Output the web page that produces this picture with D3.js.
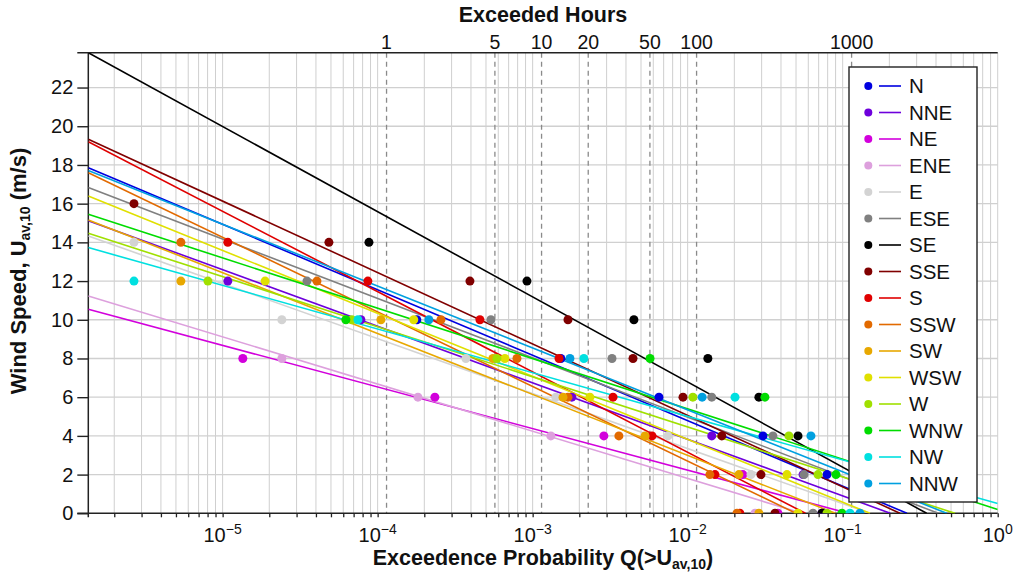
<!DOCTYPE html>
<html><head><meta charset="utf-8">
<script src="https://cdn.jsdelivr.net/npm/d3@7"></script>
<style>body{margin:0;background:#fff} svg{font-family:"Liberation Sans",Arial,sans-serif}</style>
</head><body><svg id="c" width="1017" height="576"></svg>
<script>
// ---------------- data ----------------
const directions = ["N","NNE","NE","ENE","E","ESE","SE","SSE","S","SSW","SW","WSW","W","WNW","NW","NNW"];
const colors = ["#0000e0","#6e00dc","#d200dc","#dda0dd","#d3d3d3","#808080","#000000","#800000",
                "#e00000","#e26a00","#e8a800","#e0e000","#a0e000","#00dc00","#00e0e0","#00a0e0"];
// fitted line: speed at the left edge of the plot, and probability where the line reaches 0 m/s
const lineLeftSpeed = [17.86,15.12,10.54,11.23,14.33,16.83,23.8,19.33,19.2,17.6,15.16,16.4,14.47,15.45,13.73,17.71];
const lineZeroProb  = [0.260,0.203,0.1087,0.0548,0.150,0.414,0.348,0.234,0.0575,0.050,0.0897,0.150,0.531,1.19,1.67,0.469];
// observed points [wind speed, exceedence probability]
const ptsN   = [[10,1.79e-4],[8,1.52e-3],[6,6.53e-3],[4,3.06e-2],[2,7.92e-2],[0,7.57e-2]];
const ptsNNE = [[12,1.08e-5],[10,7.80e-5],[6,1.79e-3],[4,1.43e-2],[2,5.55e-2],[0,7.35e-2]];
const ptsNE  = [[8,1.35e-5],[6,2.34e-4],[4,2.88e-3],[2,2.27e-2],[0,3.82e-2]];
const ptsENE = [[8,2.41e-5],[6,1.82e-4],[4,1.31e-3],[0,2.72e-2]];
const ptsE   = [[14,2.68e-6],[10,2.41e-5],[8,3.71e-4],[6,1.41e-3],[4,7.46e-3],[2,2.56e-2]];
const ptsESE = [[12,3.50e-5],[10,5.38e-4],[8,3.25e-3],[6,1.43e-2],[4,3.55e-2],[2,5.63e-2],[0,6.43e-2]];
const ptsSE  = [[14,8.79e-5],[12,9.19e-4],[10,4.50e-3],[8,1.35e-2],[6,2.88e-2],[4,5.15e-2],[0,7.35e-2]];
const ptsSSE = [[16,2.68e-6],[14,4.85e-5],[12,3.94e-4],[10,1.69e-3],[8,4.44e-3],[6,9.33e-3],[4,1.66e-2],[2,2.97e-2],[0,3.66e-2]];
const ptsS   = [[14,1.08e-5],[12,8.65e-5],[10,4.57e-4],[8,1.48e-3],[6,3.30e-3],[4,5.89e-3],[2,1.50e-2],[0,2.17e-2]];
const ptsSSW = [[14,5.38e-6],[12,4.06e-5],[10,2.56e-4],[8,7.92e-4],[6,1.69e-3],[4,3.60e-3],[2,1.39e-2],[0,2.08e-2]];
const ptsSW  = [[12,5.38e-6],[10,1.05e-4],[8,5.54e-4],[6,1.57e-3],[4,5.31e-3],[2,2.14e-2],[0,2.88e-2]];
const ptsWSW = [[12,1.88e-5],[10,1.71e-4],[8,6.62e-4],[6,2.34e-3],[2,4.37e-2],[0,5.15e-2]];
const ptsW   = [[12,8.04e-6],[10,6.82e-5],[8,5.88e-4],[6,1.08e-2],[4,4.50e-2],[2,6.93e-2],[0,7.92e-2]];
const ptsWNW = [[10,6.24e-5],[8,5.72e-3],[6,3.15e-2],[2,9.05e-2],[0,9.89e-2]];
const ptsNW  = [[12,2.68e-6],[10,7.46e-5],[8,2.14e-3],[6,2.02e-2],[0,0.1114]];
const ptsNNW = [[10,2.14e-4],[8,1.74e-3],[6,1.24e-2],[4,6.24e-2],[0,0.1292]];
const allPoints = [ptsN,ptsNNE,ptsNE,ptsENE,ptsE,ptsESE,ptsSE,ptsSSE,ptsS,ptsSSW,ptsSW,ptsWSW,ptsW,ptsWNW,ptsNW,ptsNNW];
const yTicks = [0,2,4,6,8,10,12,14,16,18,20,22];
const xDecades = [-5,-4,-3,-2,-1,0];
const hourTicks = [1,5,10,20,50,100,1000];
const hoursPerYear = 8760;
const pMin = 1.36e-6, yMax = 23.8;

// ---------------- layout ----------------
const L=88.3, R=997.7, T=52.7, B=513.3;
const x = d3.scaleLog().domain([pMin,1]).range([L,R]);
const y = d3.scaleLinear().domain([0,yMax]).range([B,T]);
const xh = d3.scaleLog().domain([pMin*hoursPerYear, hoursPerYear]).range([L,R]);
const svg = d3.select('#c');

svg.append('defs').append('clipPath').attr('id','clip')
  .append('rect').attr('x',L).attr('y',T).attr('width',R-L).attr('height',B-T);

// grid
const minor=[];
for(let e=-6;e<0;e++) for(let m=1;m<10;m++){const v=m*Math.pow(10,e); if(v>=pMin && v<=1.0001) minor.push(v);}
minor.push(1);
const grid = svg.append('g');
grid.selectAll('line.v').data(minor).join('line')
  .attr('x1',d=>x(d)).attr('x2',d=>x(d)).attr('y1',T).attr('y2',B)
  .attr('stroke','#cfcfcf').attr('stroke-width',1);
grid.selectAll('line.h').data(yTicks.filter(d=>d>0)).join('line')
  .attr('x1',L).attr('x2',R).attr('y1',d=>y(d)).attr('y2',d=>y(d))
  .attr('stroke','#d0d0d0').attr('stroke-width',1.3);
// dashed hour lines
grid.selectAll('line.hr').data(hourTicks).join('line')
  .attr('x1',d=>xh(d)).attr('x2',d=>xh(d)).attr('y1',T).attr('y2',B)
  .attr('stroke','#8a8a8a').attr('stroke-width',1.3).attr('stroke-dasharray','5,4');

// axes
const yAxis = svg.append('g').attr('transform',`translate(${L},0)`)
  .call(d3.axisLeft(y).tickValues(yTicks).tickSize(11).tickPadding(4).tickSizeOuter(0));
yAxis.select('.domain').remove();
yAxis.selectAll('line').attr('stroke','#222').attr('stroke-width',1.4);
yAxis.selectAll('text').attr('font-size',20).attr('fill','#111').attr('font-family','"Liberation Sans",Arial,sans-serif');
svg.append('line').attr('x1',L).attr('x2',L).attr('y1',T).attr('y2',B+4).attr('stroke','#222').attr('stroke-width',1.5);

const xAxis = svg.append('g').attr('transform',`translate(0,${B})`)
  .call(d3.axisBottom(x).tickValues(minor).tickSize(4).tickFormat('').tickSizeOuter(0));
xAxis.select('.domain').remove();
xAxis.selectAll('line').attr('stroke','#222').attr('stroke-width',1.3);
svg.append('line').attr('x1',L-11).attr('x2',R).attr('y1',B).attr('y2',B).attr('stroke','#222').attr('stroke-width',1.5);
const xl = svg.append('g').attr('font-size',20).attr('fill','#111');
xDecades.forEach(e=>{
  const t = xl.append('text').attr('x',x(Math.pow(10,e))).attr('y',B+29).attr('text-anchor','middle');
  t.append('tspan').text('10');
  t.append('tspan').attr('font-size',14).attr('dy',-8).text(e===0?'0':'\u2212'+(-e));
});

// top axis (exceeded hours)
svg.append('line').attr('x1',L-11).attr('x2',R).attr('y1',T).attr('y2',T).attr('stroke','#222').attr('stroke-width',1.5);
svg.append('g').selectAll('text').data(hourTicks).join('text')
  .attr('x',d=>xh(d)).attr('y',T-4).attr('text-anchor','middle').attr('font-size',19.5).attr('fill','#111')
  .text(d=>d);
svg.append('text').attr('x',(L+R)/2).attr('y',22).attr('text-anchor','middle')
  .attr('font-size',21.5).attr('font-weight','bold').attr('fill','#111').text('Exceeded Hours');

// axis titles
const xt = svg.append('text').attr('x',(L+R)/2).attr('y',565).attr('text-anchor','middle')
  .attr('font-size',21.5).attr('font-weight','bold').attr('fill','#111');
xt.append('tspan').text('Exceedence Probability Q(>U');
xt.append('tspan').attr('font-size',14).attr('dy',4).text('av,10');
xt.append('tspan').attr('dy',-4).text(')');
const yt = svg.append('text').attr('transform',`translate(26,${(T+B)/2-12}) rotate(-90)`).attr('text-anchor','middle')
  .attr('font-size',22).attr('font-weight','bold').attr('fill','#111');
yt.append('tspan').text('Wind Speed, U');
yt.append('tspan').attr('font-size',14).attr('dy',4).text('av,10');
yt.append('tspan').attr('dy',-4).text(' (m/s)');

// fitted lines
const plot = svg.append('g').attr('clip-path','url(#clip)');
directions.forEach((d,i)=>{
  const a = lineLeftSpeed[i], pz = lineZeroProb[i];
  const l0 = Math.log10(pMin), lz = Math.log10(pz);
  const pEnd = Math.min(pz,1);
  const vEnd = a*(1-(Math.log10(pEnd)-l0)/(lz-l0));
  plot.append('line').attr('x1',x(pMin)).attr('y1',y(a)).attr('x2',x(pEnd)).attr('y2',y(vEnd))
    .attr('stroke',colors[i]).attr('stroke-width',1.6);
});
// points
directions.forEach((d,i)=>{
  plot.append('g').selectAll('circle').data(allPoints[i]).join('circle')
    .attr('cx',p=>x(p[1])).attr('cy',p=>y(p[0])).attr('r',4.5).attr('fill',colors[i]);
});

// legend
const lg = svg.append('g');
lg.append('rect').attr('x',849).attr('y',67).attr('width',128).attr('height',435)
  .attr('fill','#fff').attr('stroke','#222').attr('stroke-width',1.4);
directions.forEach((d,i)=>{
  const yy = 86 + i*26.5;
  lg.append('circle').attr('cx',868.3).attr('cy',yy).attr('r',4).attr('fill',colors[i]);
  lg.append('line').attr('x1',879).attr('x2',901).attr('y1',yy).attr('y2',yy).attr('stroke',colors[i]).attr('stroke-width',1.6);
  lg.append('text').attr('x',909).attr('y',yy+7).attr('font-size',20.5).attr('fill','#111').text(d);
});
</script></body></html>
